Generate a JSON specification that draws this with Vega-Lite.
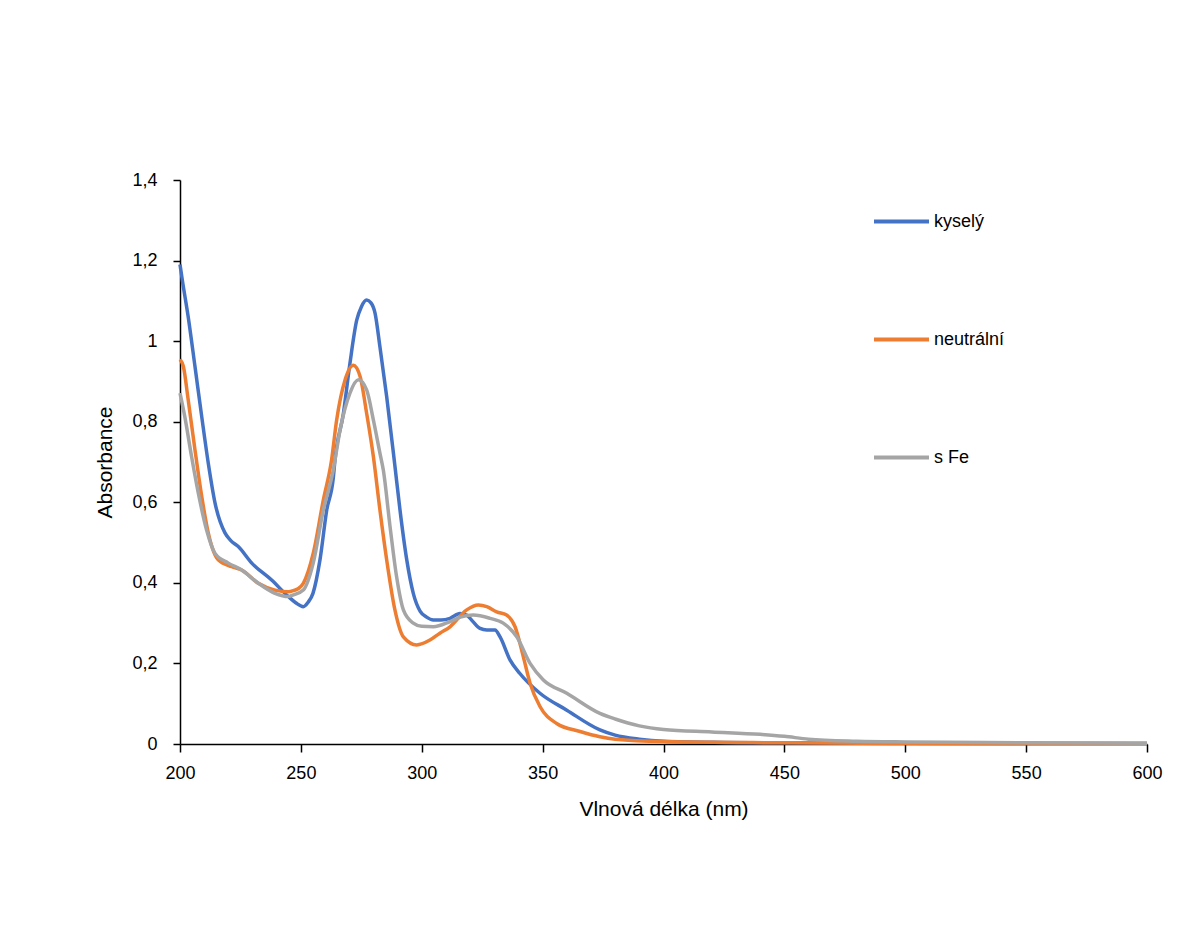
{
  "$schema": "https://vega.github.io/schema/vega-lite/v6.json",
  "width": 967,
  "height": 564,
  "autosize": {"type": "none"},
  "padding": {"left": 180, "top": 180, "right": 45, "bottom": 187},
  "background": "white",
  "config": {
    "view": {"stroke": null},
    "locale": {"number": {"decimal": ",", "thousands": " ", "grouping": [3], "currency": ["", " €"]}},
    "font": "Liberation Sans"
  },
  "data": {"values": [
    {"s":"kyselý","wl":200,"A":1.19},{"s":"kyselý","wl":201,"A":1.15},{"s":"kyselý","wl":203.4,"A":1.06},{"s":"kyselý","wl":206.2,"A":0.937},{"s":"kyselý","wl":209,"A":0.812},{"s":"kyselý","wl":211.7,"A":0.697},{"s":"kyselý","wl":214.5,"A":0.598},{"s":"kyselý","wl":218.6,"A":0.524},{"s":"kyselý","wl":221,"A":0.505},{"s":"kyselý","wl":224.1,"A":0.49},{"s":"kyselý","wl":229.7,"A":0.449},{"s":"kyselý","wl":237.9,"A":0.407},{"s":"kyselý","wl":244.8,"A":0.366},{"s":"kyselý","wl":248,"A":0.35},{"s":"kyselý","wl":251,"A":0.341},{"s":"kyselý","wl":253,"A":0.352},{"s":"kyselý","wl":255,"A":0.374},{"s":"kyselý","wl":257.9,"A":0.457},{"s":"kyselý","wl":260.7,"A":0.581},{"s":"kyselý","wl":263.4,"A":0.66},{"s":"kyselý","wl":264.1,"A":0.705},{"s":"kyselý","wl":267.6,"A":0.821},{"s":"kyselý","wl":270.3,"A":0.945},{"s":"kyselý","wl":273.1,"A":1.052},{"s":"kyselý","wl":275,"A":1.085},{"s":"kyselý","wl":277.2,"A":1.102},{"s":"kyselý","wl":279,"A":1.095},{"s":"kyselý","wl":280.7,"A":1.069},{"s":"kyselý","wl":282.7,"A":0.986},{"s":"kyselý","wl":285.5,"A":0.862},{"s":"kyselý","wl":288.9,"A":0.69},{"s":"kyselý","wl":291,"A":0.581},{"s":"kyselý","wl":293.8,"A":0.457},{"s":"kyselý","wl":296.5,"A":0.374},{"s":"kyselý","wl":299.3,"A":0.33},{"s":"kyselý","wl":302,"A":0.315},{"s":"kyselý","wl":304.8,"A":0.308},{"s":"kyselý","wl":308,"A":0.308},{"s":"kyselý","wl":311.7,"A":0.312},{"s":"kyselý","wl":315.8,"A":0.324},{"s":"kyselý","wl":318.6,"A":0.32},{"s":"kyselý","wl":321,"A":0.305},{"s":"kyselý","wl":324.1,"A":0.287},{"s":"kyselý","wl":326.9,"A":0.283},{"s":"kyselý","wl":330.3,"A":0.283},{"s":"kyselý","wl":332.4,"A":0.266},{"s":"kyselý","wl":336.5,"A":0.209},{"s":"kyselý","wl":340.6,"A":0.175},{"s":"kyselý","wl":348.9,"A":0.126},{"s":"kyselý","wl":360,"A":0.084},{"s":"kyselý","wl":373.7,"A":0.035},{"s":"kyselý","wl":380,"A":0.022},{"s":"kyselý","wl":390,"A":0.012},{"s":"kyselý","wl":400,"A":0.007},{"s":"kyselý","wl":425,"A":0.004},{"s":"kyselý","wl":450,"A":0.003},{"s":"kyselý","wl":500,"A":0.002},{"s":"kyselý","wl":600,"A":0.001},
    {"s":"neutrální","wl":200,"A":0.955},{"s":"neutrální","wl":201.4,"A":0.937},{"s":"neutrální","wl":203.4,"A":0.854},{"s":"neutrální","wl":206.2,"A":0.73},{"s":"neutrální","wl":209,"A":0.614},{"s":"neutrální","wl":211.7,"A":0.524},{"s":"neutrální","wl":215.8,"A":0.457},{"s":"neutrální","wl":221.4,"A":0.44},{"s":"neutrální","wl":225.5,"A":0.432},{"s":"neutrální","wl":232.4,"A":0.399},{"s":"neutrální","wl":239.3,"A":0.382},{"s":"neutrální","wl":244.8,"A":0.378},{"s":"neutrální","wl":247,"A":0.381},{"s":"neutrální","wl":249,"A":0.386},{"s":"neutrální","wl":251,"A":0.399},{"s":"neutrální","wl":255.1,"A":0.473},{"s":"neutrální","wl":259.3,"A":0.606},{"s":"neutrální","wl":262.7,"A":0.705},{"s":"neutrální","wl":264.8,"A":0.804},{"s":"neutrální","wl":268.3,"A":0.904},{"s":"neutrální","wl":271.7,"A":0.94},{"s":"neutrální","wl":274.5,"A":0.912},{"s":"neutrální","wl":277.2,"A":0.821},{"s":"neutrální","wl":280,"A":0.713},{"s":"neutrální","wl":282.7,"A":0.581},{"s":"neutrální","wl":285.5,"A":0.457},{"s":"neutrální","wl":288.9,"A":0.333},{"s":"neutrální","wl":292.4,"A":0.266},{"s":"neutrální","wl":297.9,"A":0.246},{"s":"neutrální","wl":303.4,"A":0.258},{"s":"neutrální","wl":307.5,"A":0.275},{"s":"neutrální","wl":311.7,"A":0.291},{"s":"neutrální","wl":318.6,"A":0.333},{"s":"neutrální","wl":323.4,"A":0.345},{"s":"neutrální","wl":326.9,"A":0.341},{"s":"neutrální","wl":331,"A":0.328},{"s":"neutrální","wl":335.1,"A":0.32},{"s":"neutrální","wl":338.6,"A":0.291},{"s":"neutrální","wl":342,"A":0.217},{"s":"neutrální","wl":344.8,"A":0.151},{"s":"neutrální","wl":348.9,"A":0.093},{"s":"neutrální","wl":355.8,"A":0.051},{"s":"neutrální","wl":365.5,"A":0.031},{"s":"neutrální","wl":373.7,"A":0.018},{"s":"neutrální","wl":380,"A":0.012},{"s":"neutrální","wl":400,"A":0.006},{"s":"neutrální","wl":450,"A":0.003},{"s":"neutrální","wl":500,"A":0.001},{"s":"neutrální","wl":600,"A":0.001},
    {"s":"s Fe","wl":200,"A":0.871},{"s":"s Fe","wl":202,"A":0.812},{"s":"s Fe","wl":204.8,"A":0.713},{"s":"s Fe","wl":207.6,"A":0.622},{"s":"s Fe","wl":211,"A":0.531},{"s":"s Fe","wl":214.5,"A":0.473},{"s":"s Fe","wl":220,"A":0.449},{"s":"s Fe","wl":225.5,"A":0.432},{"s":"s Fe","wl":232.4,"A":0.399},{"s":"s Fe","wl":239.3,"A":0.374},{"s":"s Fe","wl":244.8,"A":0.366},{"s":"s Fe","wl":246.9,"A":0.37},{"s":"s Fe","wl":251,"A":0.382},{"s":"s Fe","wl":255.1,"A":0.449},{"s":"s Fe","wl":259.3,"A":0.581},{"s":"s Fe","wl":263.4,"A":0.68},{"s":"s Fe","wl":266.2,"A":0.779},{"s":"s Fe","wl":270.3,"A":0.871},{"s":"s Fe","wl":273.8,"A":0.904},{"s":"s Fe","wl":277.2,"A":0.879},{"s":"s Fe","wl":280,"A":0.804},{"s":"s Fe","wl":282.7,"A":0.722},{"s":"s Fe","wl":284.1,"A":0.68},{"s":"s Fe","wl":286.9,"A":0.539},{"s":"s Fe","wl":289.6,"A":0.415},{"s":"s Fe","wl":292.4,"A":0.333},{"s":"s Fe","wl":296.5,"A":0.3},{"s":"s Fe","wl":300,"A":0.292},{"s":"s Fe","wl":304.8,"A":0.291},{"s":"s Fe","wl":311.7,"A":0.304},{"s":"s Fe","wl":316,"A":0.315},{"s":"s Fe","wl":321.3,"A":0.32},{"s":"s Fe","wl":328.2,"A":0.312},{"s":"s Fe","wl":333.7,"A":0.3},{"s":"s Fe","wl":339.3,"A":0.266},{"s":"s Fe","wl":344.8,"A":0.2},{"s":"s Fe","wl":350.3,"A":0.159},{"s":"s Fe","wl":360,"A":0.126},{"s":"s Fe","wl":373.7,"A":0.076},{"s":"s Fe","wl":380,"A":0.062},{"s":"s Fe","wl":390,"A":0.045},{"s":"s Fe","wl":400,"A":0.036},{"s":"s Fe","wl":420,"A":0.03},{"s":"s Fe","wl":440,"A":0.024},{"s":"s Fe","wl":450,"A":0.019},{"s":"s Fe","wl":460,"A":0.012},{"s":"s Fe","wl":480,"A":0.007},{"s":"s Fe","wl":500,"A":0.005},{"s":"s Fe","wl":550,"A":0.003},{"s":"s Fe","wl":600,"A":0.002}
  ]},
  "mark": {"type": "line", "strokeWidth": 3.5, "interpolate": "monotone"},
  "encoding": {
    "x": {
      "field": "wl", "type": "quantitative",
      "scale": {"domain": [200, 600], "nice": false, "zero": false},
      "axis": {
        "title": "Vlnová délka (nm)", "values": [200, 250, 300, 350, 400, 450, 500, 550, 600], "labelFlush": false,
        "grid": false, "domainColor": "black", "domainWidth": 1.5, "tickColor": "black", "tickWidth": 1.5, "tickSize": 8,
        "labelFontSize": 18, "labelColor": "black", "labelPadding": 12, "labelFont": "Liberation Sans",
        "titleFontSize": 21, "titleFontWeight": "normal", "titleColor": "black", "titlePadding": 16, "titleFont": "Liberation Sans"
      }
    },
    "y": {
      "field": "A", "type": "quantitative",
      "scale": {"domain": [0, 1.4], "nice": false},
      "axis": {
        "title": "Absorbance", "values": [0, 0.2, 0.4, 0.6, 0.8, 1, 1.2, 1.4], "format": "~g", "labelFlush": false,
        "grid": false, "domainColor": "black", "domainWidth": 1.5, "tickColor": "black", "tickWidth": 1.5, "tickSize": 7,
        "labelFontSize": 18, "labelColor": "black", "labelPadding": 16, "labelFont": "Liberation Sans",
        "titleFontSize": 21, "titleFontWeight": "normal", "titleColor": "black", "titlePadding": 16, "titleFont": "Liberation Sans"
      }
    },
    "color": {
      "field": "s", "type": "nominal",
      "scale": {"domain": ["kyselý", "neutrální", "s Fe"], "range": ["#4472C4", "#ED7D31", "#A5A5A5"]},
      "legend": {
        "title": null, "orient": "none", "legendX": 692, "legendY": 12,
        "symbolType": "stroke", "symbolSize": 3025, "symbolStrokeWidth": 4,
        "labelFontSize": 18, "labelColor": "black", "labelOffset": 3, "labelFont": "Liberation Sans",
        "rowPadding": 79
      }
    }
  }
}
